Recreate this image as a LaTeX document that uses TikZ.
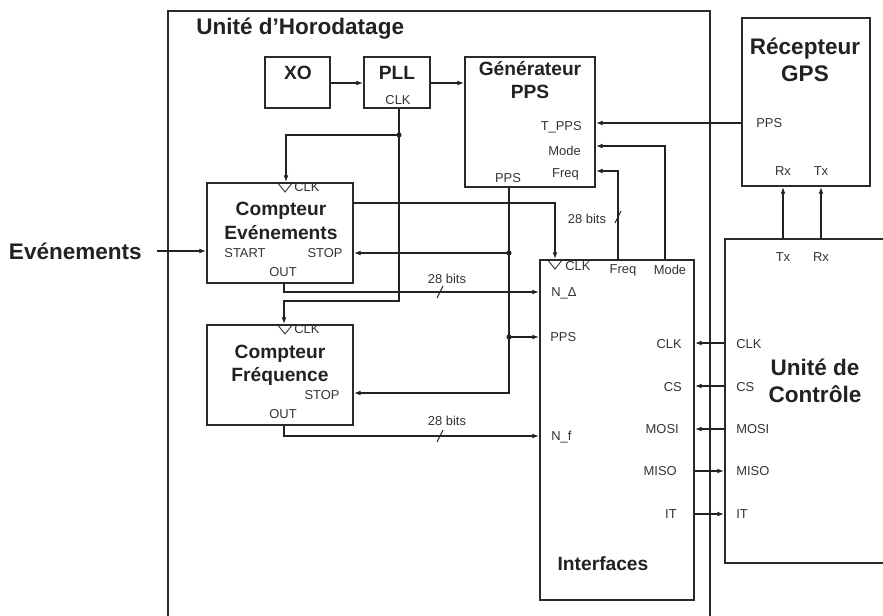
\documentclass[tikz,border=0pt]{standalone}
\usepackage{fontspec}
\setmainfont{Liberation Sans}
\usetikzlibrary{arrows.meta,fit,calc,shadows}
\definecolor{ink}{HTML}{222222}
\definecolor{boxc}{HTML}{2A2A2A}
\begin{document}
\begin{tikzpicture}[x=0.75pt,y=-0.75pt,
 blk/.style={draw=boxc, line width=1.5pt, fill=white, inner sep=0pt,
   drop shadow={shadow xshift=1.1pt, shadow yshift=-1.1pt, opacity=0.2, fill=black}},
 cn/.style={draw=ink, line width=0.8pt},
 arr/.style={cn, -{Latex[length=5pt,width=3.6pt]}},
 ttl/.style={font=\bfseries\fontsize{14.4}{17.5}\selectfont, align=center, text=ink, inner sep=0pt},
 bigttl/.style={font=\bfseries\fontsize{16.9}{20.3}\selectfont, align=center, text=ink, inner sep=0pt},
 lab/.style={font=\fontsize{9.7}{11}\selectfont, text=black!80, inner sep=0pt},
 dot/.style={circle, fill=ink, inner sep=0pt, minimum size=3.8pt},
 tri/.style={draw=ink, line width=0.6pt}]
\clip (0,0) rectangle (883,615);
% ---------- boxes
\node[blk, fit={(168,11) (710,660)}] (hor) {};
\node[blk, fit={(742,18) (870,186)}] (gps) {};
\node[blk, fit={(725,239) (910,563)}] (ctl) {};
\node[blk, fit={(265,57) (330,108)}] (xo) {};
\node[blk, fit={(364,57) (430,108)}] (pll) {};
\node[blk, fit={(465,57) (595,187)}] (gen) {};
\node[blk, fit={(207,183) (353,283)}] (ev) {};
\node[blk, fit={(207,325) (353,425)}] (fr) {};
\node[blk, fit={(540,260) (694,600)}] (itf) {};
% ---------- titles
\node[bigttl, anchor=west] (horT) at (196,29) {Unité d’Horodatage};
\node[ttl] (xoT) at (298,73) {XO};
\node[ttl] (pllT) at (397,73) {PLL};
\node[ttl] (genT) at (530,80) {Générateur\\PPS};
\node[ttl] (evT) at (281,221) {Compteur\\Evénements};
\node[ttl] (frT) at (280,365) {Compteur\\Fréquence};
\node[ttl] (itfT) at (603,564) {Interfaces};
\node[bigttl, align=center] (gpsT) at (805,60) {Récepteur\\GPS};
\node[bigttl, align=center] (ctlT) at (815,381) {Unité de\\Contrôle};
\node[bigttl, anchor=east] (evin) at (142,251) {Evénements};
% ---------- small labels
\node[lab] (pllclk) at (398,100) {CLK};
\node[lab, anchor=east] (genTpps) at (582,127) {T\_PPS};
\node[lab, anchor=east] (genMode) at (581,151) {Mode};
\node[lab, anchor=east] (genFreq) at (579,174) {Freq};
\node[lab] (genPps) at (508,178) {PPS};
\node[lab] (evStart) at (245,253) {START};
\node[lab] (evStop) at (325,253) {STOP};
\node[lab] (evOut) at (283,272) {OUT};
\node[lab, anchor=west] (evClk) at (294,187) {CLK};
\node[lab] (frStop) at (322,395) {STOP};
\node[lab] (frOut) at (283,414) {OUT};
\node[lab, anchor=west] (frClk) at (294,329) {CLK};
\node[lab, anchor=west] (itfClk) at (565,266) {CLK};
\node[lab] (itfFreq) at (623,270) {Freq};
\node[lab] (itfMode) at (670,270) {Mode};
\node[lab, anchor=west] (itfN) at (551,293) {N\_Δ};
\node[lab, anchor=west] (itfPps) at (550,337) {PPS};
\node[lab, anchor=west] (itfNf) at (551,437) {N\_f};
\node[lab, anchor=east] (itfClkR) at (682,344) {CLK};
\node[lab, anchor=east] (itfCs) at (682,387) {CS};
\node[lab, anchor=east] (itfMosi) at (679,429) {MOSI};
\node[lab, anchor=east] (itfMiso) at (677,471) {MISO};
\node[lab, anchor=east] (itfIt) at (677,514) {IT};
\node[lab, anchor=west] (ctlClk) at (736,344) {CLK};
\node[lab, anchor=west] (ctlCs) at (736,387) {CS};
\node[lab, anchor=west] (ctlMosi) at (736,429) {MOSI};
\node[lab, anchor=west] (ctlMiso) at (736,471) {MISO};
\node[lab, anchor=west] (ctlIt) at (736,514) {IT};
\node[lab] (ctlTx) at (783,257) {Tx};
\node[lab] (ctlRx) at (821,257) {Rx};
\node[lab, anchor=west] (gpsPps) at (756,123) {PPS};
\node[lab] (gpsRx) at (783,171) {Rx};
\node[lab] (gpsTx) at (821,171) {Tx};
\node[lab] (b1) at (447,279) {28 bits};
\node[lab] (b2) at (447,421) {28 bits};
\node[lab] (b3) at (587,219) {28 bits};
% ---------- junction coordinates
\coordinate (dclk) at (399,135);
\coordinate (dstop) at (509,253);
\coordinate (dpps) at (509,337);
% ---------- clock triangles
\draw[tri] ($(ev.north -| 285,0)+(-8,0)$) -- ++(8,10) -- ++(8,-10);
\draw[tri] ($(fr.north -| 285,0)+(-8,0)$) -- ++(8,10) -- ++(8,-10);
\draw[tri] ($(itf.north -| 555,0)+(-8,0)$) -- ++(8,10) -- ++(8,-10);
% ---------- connectors
\draw[arr] (xo.east |- 0,83) -- (pll.west |- 0,83);
\draw[arr] (pll.east |- 0,83) -- (gen.west |- 0,83);
\draw[arr] (pll.south -| 399,0) -- (399,301) -| (fr.north -| 284,0);
\draw[arr] (dclk) -| (ev.north -| 286,0);
\draw[arr] (ev.east |- 0,203) -| (itf.north -| 555,0);
\draw[arr] ($(evin.east |- 0,251)+(15,0)$) -- (ev.west |- 0,251);
\draw[arr] (gen.south -| 509,0) |- (fr.east |- 0,393);
\draw[arr] (dstop) -- (ev.east |- 0,253);
\draw[arr] (dpps) -- (itf.west |- 0,337);
\draw[arr] (ev.south -| 284,0) |- (itf.west |- 0,292);
\draw[arr] (fr.south -| 284,0) |- (itf.west |- 0,436);
\draw[arr] (itf.north -| 618,0) |- (gen.east |- 0,171);
\draw[arr] (itf.north -| 665,0) |- (gen.east |- 0,146);
\draw[arr] (gps.west |- 0,123) -- (gen.east |- 0,123);
\draw[arr] (ctl.north -| 783,0) -- (gps.south -| 783,0);
\draw[arr] (ctl.north -| 821,0) -- (gps.south -| 821,0);
\draw[arr] (ctl.west |- 0,343) -- (itf.east |- 0,343);
\draw[arr] (ctl.west |- 0,386) -- (itf.east |- 0,386);
\draw[arr] (ctl.west |- 0,429) -- (itf.east |- 0,429);
\draw[arr] (itf.east |- 0,471) -- (ctl.west |- 0,471);
\draw[arr] (itf.east |- 0,514) -- (ctl.west |- 0,514);
% ---------- junction dots
\node[dot] (dclkD) at (dclk) {};
\node[dot] (dstopD) at (dstop) {};
\node[dot] (dppsD) at (dpps) {};
% ---------- bus slashes
\draw[cn] (437,298) -- (443,286);
\draw[cn] (437,442) -- (443,430);
\draw[cn] (615,223) -- (621,211);
\end{tikzpicture}
\end{document}
